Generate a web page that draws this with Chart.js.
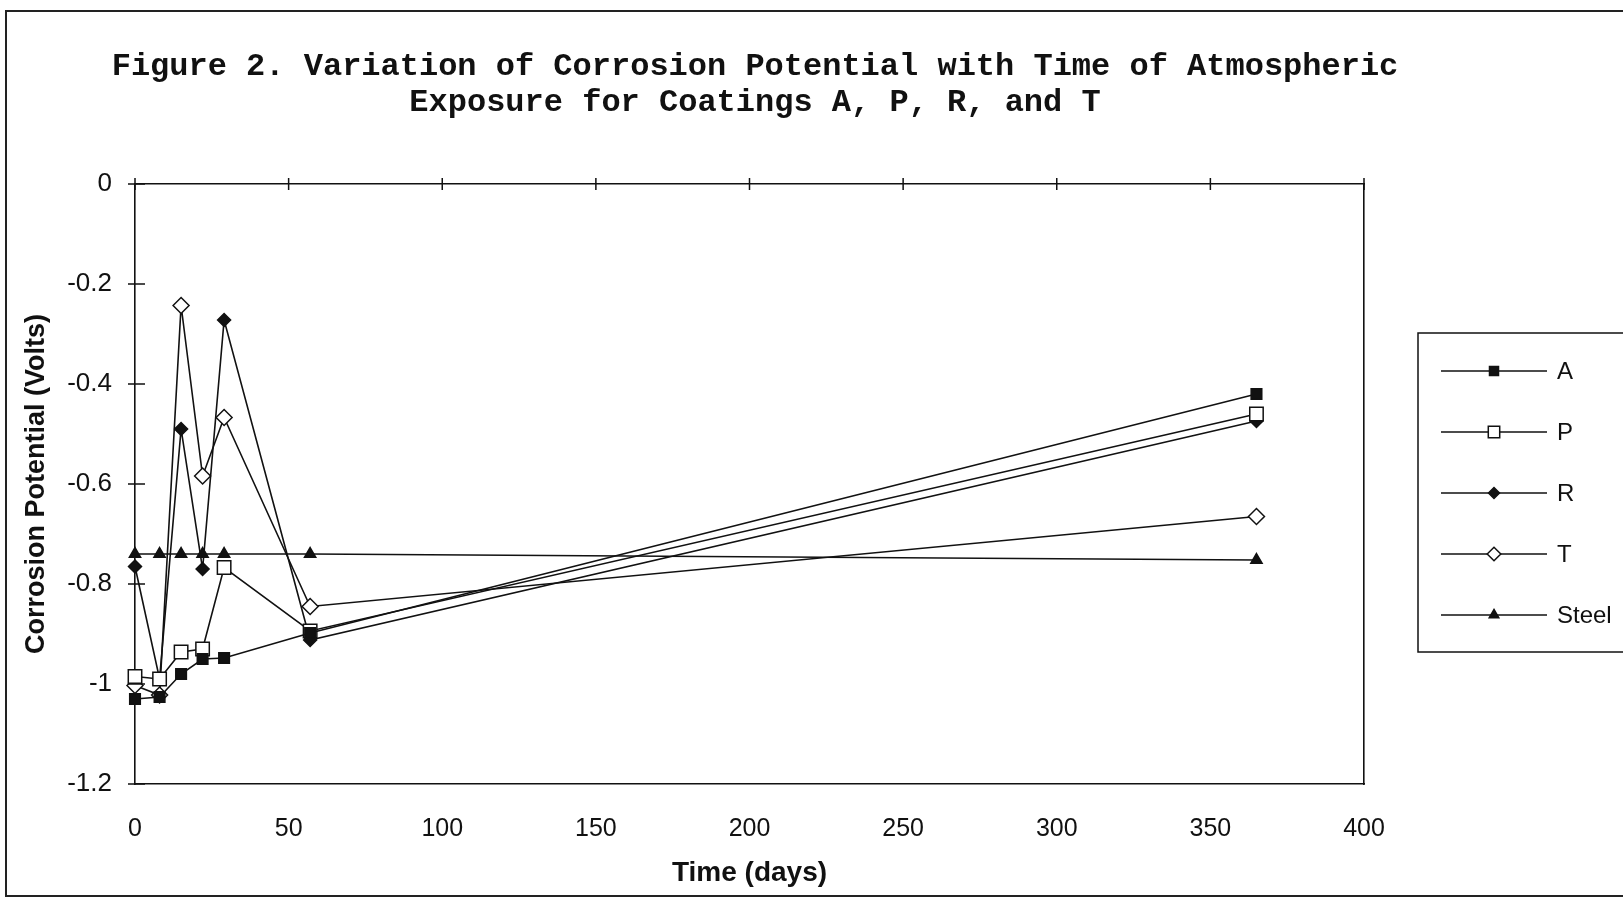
<!DOCTYPE html>
<html>
<head>
<meta charset="utf-8">
<title>Figure 2</title>
<script src="https://cdn.jsdelivr.net/npm/chart.js@4.4.1/dist/chart.umd.min.js"></script>
<style>
    html, body { margin: 0; padding: 0; background: #fff; overflow: hidden; }
    #frame { position: absolute; left: 5px; top: 10px; width: 1700px; height: 887px; border: 2px solid #222; box-sizing: border-box; }
    #wrap { position: absolute; left: 0; top: 0; width: 1623px; height: 898px; }
    #figTitle {
        position: absolute; left: 0; top: 49px; width: 1510px;
        text-align: center; color: #111;
        font: bold 32px/36px 'Liberation Mono', 'Courier New', monospace;
        white-space: pre;
    }
</style>
</head>
<body>
<div id="frame"></div>
<div id="wrap"><canvas id="chart" width="1623" height="898"></canvas></div>
<div id="figTitle"></div>
<script>
// time of exposure, days
const days = [0, 8, 15, 22, 29, 57, 365];

// corrosion potential, volts
const coatingA = [-1.03, -1.026, -0.98, -0.95, -0.948, -0.898, -0.42];
const coatingP = [-0.985, -0.99, -0.936, -0.93, -0.767, -0.894, -0.46];
const coatingR = [-0.765, -0.99, -0.49, -0.77, -0.272, -0.912, -0.474];
const coatingT = [-1.003, -1.022, -0.243, -0.584, -0.467, -0.845, -0.665];
const steel = [-0.74, -0.74, -0.74, -0.74, -0.74, -0.74, -0.752];

const seriesNames = ["A", "P", "R", "T", "Steel"];

const titleLines = [
    "Figure 2. Variation of Corrosion Potential with Time of Atmospheric",
    "Exposure for Coatings A, P, R, and T"
];

const ink = "#111";
const sans = "'Liberation Sans', Arial, sans-serif";

document.getElementById("figTitle").textContent = titleLines.join("\n");

function toPoints(values){
    let points = [];
    for (let i = 0; i < days.length; i++){
        points.push({x: days[i], y: values[i]});
    }
    return points;
}

function makeDataset(name, values, style, radius, filled){
    return {
        label: name,
        data: toPoints(values),
        borderColor: ink,
        borderWidth: 1.6,
        pointStyle: style,
        pointRadius: radius,
        pointHoverRadius: radius,
        pointBackgroundColor: filled ? ink : "#fff",
        pointBorderColor: ink,
        pointBorderWidth: 1.5,
        tension: 0,
        fill: false,
        clip: false,
    };
}

// crossing tick marks on the left axis and along the zero line on top
const crossTicks = {
    id: "crossTicks",
    afterDatasetsDraw(chart){
        const ctx = chart.ctx;
        const y = chart.scales.y;
        const xTop = chart.scales.xTop;
        ctx.save();
        ctx.strokeStyle = ink;
        ctx.lineWidth = 1.5;
        ctx.beginPath();
        for (let t of y.ticks){
            const py = y.getPixelForValue(t.value);
            ctx.moveTo(y.right - 7, py);
            ctx.lineTo(y.right + 10, py);
        }
        for (let t of xTop.ticks){
            const px = xTop.getPixelForValue(t.value);
            ctx.moveTo(px, xTop.bottom - 6);
            ctx.lineTo(px, xTop.bottom + 6);
        }
        ctx.stroke();
        ctx.restore();
    }
};

// boxed legend with a line through each marker
const legendBox = {
    id: "legendBox",
    afterDraw(chart){
        const ctx = chart.ctx;
        const left = 1418, top = 333, right = 1640, bottom = 652;
        ctx.save();
        ctx.strokeStyle = ink;
        ctx.lineWidth = 1.5;
        ctx.strokeRect(left, top, right - left, bottom - top);
        ctx.font = "24px " + sans;
        ctx.textBaseline = "middle";
        chart.data.datasets.forEach((ds, i) => {
            const rowY = 371 + i * 61;
            ctx.beginPath();
            ctx.lineWidth = 1.6;
            ctx.moveTo(1441, rowY);
            ctx.lineTo(1547, rowY);
            ctx.stroke();
            ctx.fillStyle = ds.pointBackgroundColor;
            ctx.lineWidth = 1.5;
            Chart.helpers.drawPoint(ctx, {pointStyle: ds.pointStyle, radius: ds.pointRadius * 0.85, borderWidth: 1.5}, 1494, rowY);
            ctx.fillStyle = ink;
            ctx.fillText(ds.label, 1557, rowY + 1);
        });
        ctx.restore();
    }
};

const chartOptions = {
    type: "line",
    data: {
        datasets: [
            makeDataset(seriesNames[0], coatingA, "rect", 7.5, true),
            makeDataset(seriesNames[1], coatingP, "rect", 9.5, false),
            makeDataset(seriesNames[2], coatingR, "rectRot", 6.5, true),
            makeDataset(seriesNames[3], coatingT, "rectRot", 8, false),
            makeDataset(seriesNames[4], steel, "triangle", 6.5, true),
        ],
    },
    options: {
        responsive: false,
        animation: false,
        events: [],
        layout: {
            padding: {left: 10, right: 259, top: 184, bottom: 8},
        },
        plugins: {
            legend: {display: false},
            tooltip: {enabled: false},
            title: {display: false},
        },
        scales: {
            x: {
                type: "linear",
                position: "bottom",
                min: 0,
                max: 400,
                afterFit: (scale) => { scale.height = 106; },
                grid: {display: true, drawOnChartArea: false, drawTicks: false},
                border: {display: true, color: ink, width: 1.6},
                ticks: {
                    stepSize: 50,
                    padding: 30,
                    color: ink,
                    font: {family: sans, size: 25},
                },
                title: {
                    display: true,
                    text: "Time (days)",
                    color: ink,
                    font: {family: sans, size: 28, weight: "bold"},
                    padding: {top: 10, bottom: 0},
                },
            },
            xTop: {
                type: "linear",
                position: "top",
                min: 0,
                max: 400,
                afterFit: (scale) => { scale.height = 0; },
                grid: {display: true, drawOnChartArea: false, drawTicks: false},
                border: {display: true, color: ink, width: 1.6},
                ticks: {display: false, stepSize: 50},
            },
            y: {
                type: "linear",
                position: "left",
                min: -1.2,
                max: 0,
                afterFit: (scale) => { scale.width = 125; },
                grid: {display: true, drawOnChartArea: false, drawTicks: false},
                border: {display: true, color: ink, width: 1.6},
                ticks: {
                    stepSize: 0.2,
                    padding: 23,
                    color: ink,
                    font: {family: sans, size: 26},
                    callback: (value) => String(Number(value.toFixed(1))),
                },
                title: {
                    display: true,
                    text: "Corrosion Potential (Volts)",
                    color: ink,
                    font: {family: sans, size: 27, weight: "bold"},
                    padding: {top: 10, bottom: 10},
                },
            },
            yRight: {
                type: "linear",
                position: "right",
                min: -1.2,
                max: 0,
                afterFit: (scale) => { scale.width = 0; },
                grid: {display: true, drawOnChartArea: false, drawTicks: false},
                border: {display: true, color: ink, width: 1.6},
                ticks: {display: false},
            },
        },
    },
    plugins: [crossTicks, legendBox],
};

new Chart("chart", chartOptions);
</script>
</body>
</html>
